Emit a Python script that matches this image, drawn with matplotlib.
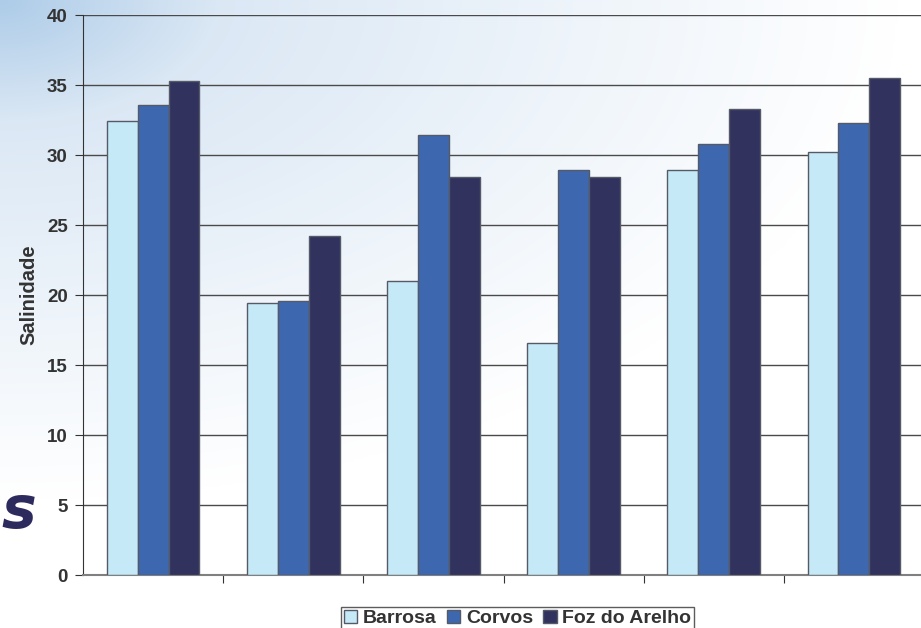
import numpy as np
import matplotlib.pyplot as plt

plt.rcParams['font.family'] = ['Liberation Sans', 'DejaVu Sans']

# data
series = ["Barrosa", "Corvos", "Foz do Arelho"]
barrosa = [32.4, 19.4, 21.0, 16.6, 28.9, 30.2]
corvos = [33.6, 19.6, 31.4, 28.9, 30.8, 32.3]
foz = [35.3, 24.2, 28.4, 28.4, 33.3, 35.5]
yticks = [0, 5, 10, 15, 20, 25, 30, 35, 40]

colors = ["#c6e9f8", "#3d68b0", "#32325f"]

fig = plt.figure(figsize=(9.21, 6.28), dpi=100)

# slide background: light blue fading to white toward bottom right
bg = fig.add_axes([0, 0, 1, 1], zorder=-10)
yy, xx = np.mgrid[0:1:300j, 0:1:400j]
d = np.clip(np.sqrt((xx * 0.9) ** 2 + (yy * 1.1) ** 2) / 1.2, 0, 1)[..., None]
c0 = np.array([0.68, 0.80, 0.91])
c1 = np.array([0.86, 0.91, 0.96])
c2 = np.array([1.0, 1.0, 1.0])
img = np.where(d < 0.18,
               c0 + (c1 - c0) * (d / 0.18),
               c1 + (c2 - c1) * np.clip((d - 0.18) / 0.55, 0, 1))
bg.imshow(img, aspect='auto', extent=[0, 1, 0, 1], origin='upper')
bg.axis('off')
bg.text(0.002, 0.185, "s", transform=bg.transAxes, fontsize=42, color="#2d2b5e",
        fontstyle='italic', fontweight='bold', family='DejaVu Sans', va='center')

ax = fig.add_axes([83 / 921, 53 / 628, 841 / 921, 560 / 628])
ax.patch.set_alpha(0)

x = np.arange(len(barrosa))
w = 0.22
for i, (vals, name) in enumerate(zip([barrosa, corvos, foz], series)):
    ax.bar(x + (i - 1) * w, vals, w, color=colors[i], edgecolor="#555a66",
           linewidth=1.0, label=name, zorder=3)

ax.set_xlim(-0.5, len(barrosa) - 0.5)
ax.set_ylim(0, 40)
ax.set_yticks(yticks)
ax.set_yticklabels([str(t) for t in yticks], fontsize=13.5, fontweight='bold', color="#333333")
ax.yaxis.grid(True, color="#4a4a4a", linewidth=1.0, zorder=0)
ax.set_xticks(np.arange(0.5, len(barrosa) - 0.5, 1))
ax.set_xticklabels([])
ax.tick_params(axis='x', direction='out', length=6, color="#333333")
ax.tick_params(axis='y', direction='out', length=6, color="#333333", pad=5)
for s in ['top', 'right']:
    ax.spines[s].set_visible(False)
ax.spines['left'].set_color("#333333")
ax.spines['bottom'].set_color("#808080")
ax.spines['bottom'].set_linewidth(1.5)
ax.axhline(40, color="#333333", linewidth=1.2, zorder=1)
ax.set_ylabel("Salinidade", fontsize=14.5, fontweight='bold', color="#333333", labelpad=6)

leg = fig.legend(loc='upper center', bbox_to_anchor=(0.562, 1 - 597 / 628), ncol=3,
                 frameon=True, fancybox=False, handlelength=0.7, handleheight=0.7,
                 handletextpad=0.3, columnspacing=0.5, borderpad=0.15,
                 prop={'weight': 'bold', 'size': 14})
leg.get_frame().set_edgecolor("#333333")
leg.get_frame().set_facecolor("white")
for t in leg.get_texts():
    t.set_color("#333333")

fig.savefig("out.png", dpi=100)
